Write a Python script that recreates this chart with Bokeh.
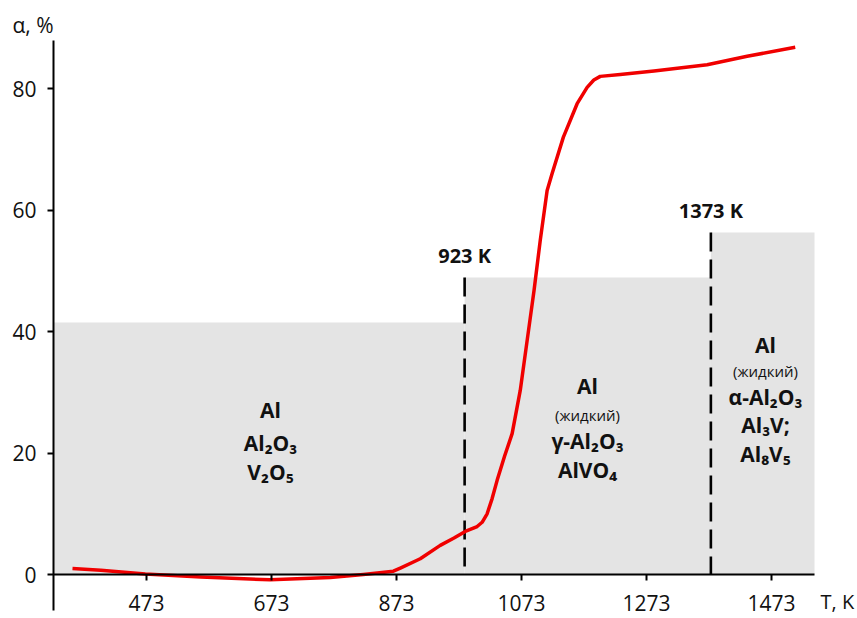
from bokeh.plotting import figure
from bokeh.models import Range1d, FixedTicker
from bokeh.embed import file_html
from bokeh.resources import INLINE
from bokeh.core.properties import value

# ---- data ----
T = [354.6, 400, 471, 560, 671, 767, 820, 868, 880, 911, 943, 965, 983, 1002,
     1010, 1018, 1026, 1034, 1046, 1058, 1071, 1082, 1093, 1103, 1114, 1122,
     1140, 1162, 1178, 1188.7, 1199, 1231, 1285, 1370, 1434, 1511]
alpha = [1.0, 0.7, 0.1, -0.4, -0.87, -0.5, 0.0, 0.55, 1.1, 2.6, 4.8, 6.0, 7.1, 7.9,
         8.6, 10.0, 12.5, 15.5, 19.5, 23.2, 30.3, 38.5, 46.7, 55.0, 63.2, 66.0,
         72.0, 77.5, 80.2, 81.4, 82.0, 82.3, 82.9, 83.9, 85.3, 86.8]

x_ticks = [473, 673, 873, 1073, 1273, 1473]
y_ticks = [0, 20, 40, 60, 80]

T_min, T_max = 324.2, 1541.8      # extent of the drawn T axis
a_min, a_max = -5.93, 87.9        # extent of the drawn alpha axis

zone_left = [T_min, 982, 1376]
zone_right = [982, 1376, T_max]
zone_top = [41.5, 48.9, 56.3]

boundary_T = [982, 1376]
boundary_top = [48.9, 56.3]
boundary_labels = ["923 K", "1373 K"]

zone_lines = [
    ["Al", "Al₂O₃", "V₂O₅"],
    ["Al", "(жидкий)", "γ-Al₂O₃", "AlVO₄"],
    ["Al", "(жидкий)", "α-Al₂O₃", "Al₃V;", "Al₈V₅"],
]

# ---- layout (text placement) ----
zone_text_x = [671.4, 1178.6, 1463.4]
zone_text_y = [
    [27.0, 21.73, 16.95],
    [30.95, 26.34, 22.06, 17.28],
    [37.86, 33.58, 29.14, 24.69, 19.92],
]
label_gap = 3.6

FONT = "Open Sans"
TXT = "#111111"

p = figure(width=857, height=618, output_backend="svg", toolbar_location=None,
           x_range=Range1d(239.4, 1610.6), y_range=Range1d(-7.24, 94.49),
           min_border_left=0, min_border_right=0, min_border_top=0,
           min_border_bottom=0)
p.outline_line_color = None
p.xgrid.visible = False
p.ygrid.visible = False
p.background_fill_color = "white"
p.border_fill_color = "white"

# shaded zones
p.quad(left=zone_left, right=zone_right, bottom=[0, 0, 0], top=zone_top,
       fill_color="#e4e4e4", line_color=None)

# boundaries
p.segment(x0=boundary_T, y0=boundary_top, x1=boundary_T, y1=[0, 0],
          line_color="black", line_width=2.6, line_dash="19 8")
p.text(x=boundary_T, y=[t + label_gap for t in boundary_top], text=boundary_labels,
       text_font=value(FONT), text_font_style="bold", text_font_size="20px",
       text_align="center", text_baseline="middle", text_color=TXT)

# zone compositions
for zx, lines, ys in zip(zone_text_x, zone_lines, zone_text_y):
    for line, yy in zip(lines, ys):
        small = line.startswith("(")
        p.text(x=[zx], y=[yy], text=[line], text_font=value(FONT),
               text_font_style="normal" if small else "bold",
               text_font_size="15px" if small else "21px",
               text_align="center", text_baseline="middle", text_color=TXT)

# curve
p.line(T, alpha, line_color="#f00000", line_width=3.5, line_join="round")

# axis lines (drawn to the reference's extent)
p.segment(x0=[T_min, T_min], y0=[0, a_min], x1=[T_max, T_min], y1=[0, a_max],
          line_color="black", line_width=2)

# axes placed inside the frame
for ax in (p.xaxis[0], p.yaxis[0]):
    ax.axis_line_color = None
    ax.major_tick_line_width = 2
    ax.major_tick_line_color = "black"
    ax.major_tick_in = 0
    ax.major_tick_out = 6
    ax.minor_tick_line_color = None
    ax.major_label_text_font = FONT
    ax.major_label_text_font_size = "21px"
    ax.major_label_text_color = TXT

p.xaxis.fixed_location = 0
p.xaxis.ticker = FixedTicker(ticks=x_ticks)
p.xaxis.major_label_standoff = 14
p.yaxis.fixed_location = T_min
p.yaxis.ticker = FixedTicker(ticks=y_ticks)
p.yaxis.major_label_standoff = 11

# axis titles
p.text(x=[258.6], y=[90.4], text=["α, %"], text_font=value(FONT),
       text_font_size="21px", text_baseline="middle", text_align="left",
       text_color=TXT)
p.text(x=[1551.4], y=[-4.5], text=["T, K"], text_font=value(FONT),
       text_font_size="20px", text_baseline="middle", text_align="left",
       text_color=TXT)

open("out.html", "w").write(file_html(p, INLINE))
